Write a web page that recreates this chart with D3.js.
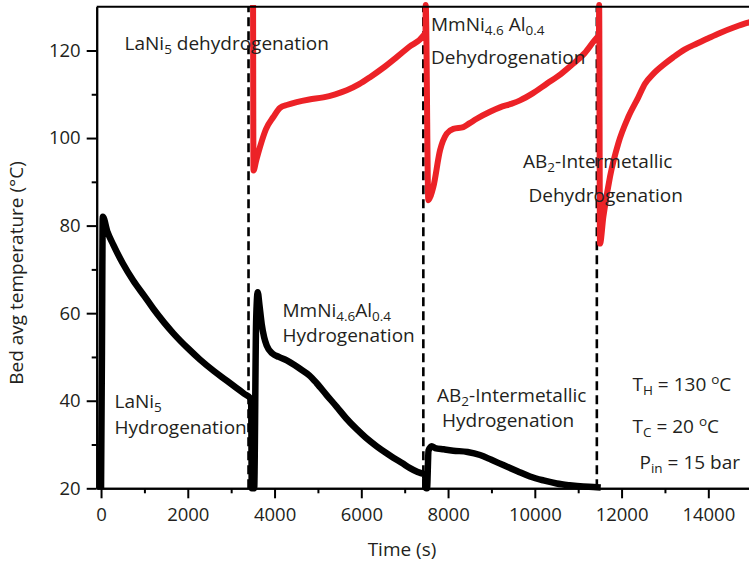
<!DOCTYPE html>
<html>
<head>
<meta charset="utf-8">
<script src="https://cdn.jsdelivr.net/npm/d3@7"></script>
<style>
  html, body { margin: 0; padding: 0; background: #fff; }
  svg { display: block; }
  text { font-family: "Open Sans", sans-serif; fill: #231f20; }
</style>
</head>
<body>
<svg id="chart" width="749" height="562"></svg>
<script>
// Bed average temperature over three hydrogenation / dehydrogenation cycles
// (time in s, temperature in °C)

// Hydrogenation bed (black trace)
const hydroTime = [0, 20, 40, 150, 284, 500, 745, 1000, 1206, 1450, 1667, 2000, 2282, 2600, 2898, 3112, 3300, 3460,
  3475, 3530, 3575, 3612, 3650, 3704, 3760, 3820, 3950, 4100, 4281, 4450, 4587, 4800, 4972, 5200, 5433, 5650,
  5894, 6100, 6355, 6600, 6738, 6950, 7123, 7300, 7469,
  7490, 7515, 7550, 7623, 7700, 7900, 8121, 8450, 8737, 9000, 9274, 9600, 9889, 10200, 10505, 10800, 11118, 11350, 11520];
const hydroTemp = [20, 50, 82, 78.5, 75.6, 71.4, 67.4, 63.9, 61.0, 57.9, 55.4, 52.0, 49.4, 46.8, 44.6, 43.0, 41.6, 40.4,
  20, 20, 58, 64.8, 62, 57.5, 54.5, 52.6, 50.8, 50.0, 49.2, 48.2, 47.3, 45.8, 44.0, 41.3, 38.6, 36.0,
  33.5, 31.6, 29.6, 27.9, 27.0, 25.7, 24.6, 23.7, 23.1,
  20, 20, 28.6, 29.6, 29.2, 28.9, 28.6, 28.3, 27.6, 26.5, 25.3, 23.9, 22.7, 21.8, 21.1, 20.7, 20.4, 20.3, 20.2];

// Dehydrogenation bed (red trace)
const dehydroTime = [3505, 3515, 3580, 3665, 3800, 3972, 4126, 4300, 4511, 4800, 5125, 5400, 5664, 5950, 6201, 6500,
  6817, 7100, 7430, 7480,
  7485, 7545, 7600, 7660, 7815, 7969, 8121, 8352, 8500, 8661, 8967, 9198, 9450, 9659, 9950, 10274, 10600, 10887,
  11150, 11427, 11478,
  11483, 11503, 11580, 11734, 11925, 12155, 12386, 12540, 12725, 13000, 13186, 13450, 13739, 14000, 14269, 14600,
  14892, 15000];
const dehydroTemp = [130.4, 92.6, 95, 98, 102, 104.8, 106.9, 107.6, 108.2, 108.8, 109.3, 110, 110.9, 112.3, 113.9, 116,
  118.5, 120.8, 123.4, 124.2,
  130.4, 85.8, 86.8, 88.8, 97.2, 101, 102.1, 102.5, 103.4, 104.4, 106.0, 107.0, 107.8, 108.6, 110.2, 112.4, 114.6, 117,
  119.4, 122.9, 123.4,
  130.4, 75.9, 82, 91.2, 98.8, 104.8, 109.3, 112.4, 114.6, 117, 118.4, 120.2, 121.6, 122.8, 124, 125.3,
  126.3, 126.6];

// Cycle switch-over times (dashed markers)
const switchTimes = [3400, 7430, 11430];

// Axis ticks
const xMajorTicks = [0, 2000, 4000, 6000, 8000, 10000, 12000, 14000];
const xMinorTicks = [1000, 3000, 5000, 7000, 9000, 11000, 13000];
const yMajorTicks = [20, 40, 60, 80, 100, 120];
const yMinorTicks = [30, 50, 70, 90, 110];

const xLabel = "Time (s)";
const yLabel = "Bed avg temperature (°C)";

// Text annotations in data coordinates; each line is a list of [text, style] pieces
const notes = [
  { t: 542,   v: 120.2, parts: [["LaNi"], ["5", "sub"], [" dehydrogenation"]] },
  { t: 7607,  v: 124.5, parts: [["MmNi"], ["4.6", "sub"], [" Al"], ["0.4", "sub"]] },
  { t: 7607,  v: 117.0, parts: [["Dehydrogenation"]] },
  { t: 9728,  v: 93.1,  parts: [["AB"], ["2", "sub"], ["-Intermetallic"]] },
  { t: 9855,  v: 85.4,  parts: [["Dehydrogenation"]] },
  { t: 311,   v: 38.3,  parts: [["LaNi"], ["5", "sub"]] },
  { t: 311,   v: 32.3,  parts: [["Hydrogenation"]] },
  { t: 4184,  v: 59.2,  parts: [["MmNi"], ["4.6", "sub"], ["Al"], ["0.4", "sub"]] },
  { t: 4184,  v: 53.5,  parts: [["Hydrogenation"]] },
  { t: 7746,  v: 39.8,  parts: [["AB"], ["2", "sub"], ["-Intermetallic"]] },
  { t: 7861,  v: 34.1,  parts: [["Hydrogenation"]] },
  { t: 12252, v: 42.3,  parts: [["T"], ["H", "sub"], [" = 130 "], ["o", "sup"], ["C"]] },
  { t: 12252, v: 32.7,  parts: [["T"], ["C", "sub"], [" = 20 "], ["o", "sup"], ["C"]] },
  { t: 12414, v: 24.4,  parts: [["P"], ["in", "sub"], [" = 15 bar"]] }
];

const svg = d3.select("#chart");

const x = d3.scaleLinear().domain([-100, 15000]).range([96.7, 751.7]);
const y = d3.scaleLinear().domain([20, 130]).range([488.3, 6.7]);

const axisColor = "#000";

// Dashed cycle markers
svg.append("g").selectAll("line")
  .data(switchTimes)
  .join("line")
  .attr("x1", d => x(d)).attr("x2", d => x(d))
  .attr("y1", y(20)).attr("y2", y(130))
  .attr("stroke", "#000")
  .attr("stroke-width", 2.6)
  .attr("stroke-dasharray", "9,5");

// Traces
const line = d3.line()
  .x(d => x(d[0]))
  .y(d => y(d[1]))
  .curve(d3.curveMonotoneX);

svg.append("path")
  .datum(hydroTime.map((t, i) => [t, hydroTemp[i]]))
  .attr("d", line)
  .attr("fill", "none")
  .attr("stroke", "#000")
  .attr("stroke-width", 6.5)
  .attr("stroke-linejoin", "round");

svg.append("path")
  .datum(dehydroTime.map((t, i) => [t, dehydroTemp[i]]))
  .attr("d", line)
  .attr("fill", "none")
  .attr("stroke", "#ec2227")
  .attr("stroke-width", 6)
  .attr("stroke-linejoin", "round");

// Axes
function styleAxis(g) {
  g.select(".domain").attr("stroke", axisColor).attr("stroke-width", 2);
  g.selectAll(".tick line").attr("stroke", axisColor).attr("stroke-width", 2);
  g.selectAll(".tick text").attr("fill", "#231f20")
    .style("font-family", "'Open Sans', sans-serif").style("font-size", "18.5px");
}

svg.append("g")
  .attr("transform", `translate(0,${y(20)})`)
  .call(d3.axisBottom(x).tickValues(xMinorTicks).tickSize(5).tickSizeOuter(0).tickFormat(""))
  .call(styleAxis);

svg.append("g")
  .attr("transform", `translate(0,${y(20)})`)
  .call(d3.axisBottom(x).tickValues(xMajorTicks).tickSize(10).tickSizeOuter(0).tickPadding(9.5).tickFormat(d3.format("d")))
  .call(styleAxis);

svg.append("g")
  .attr("transform", `translate(${x(-100)},0)`)
  .call(d3.axisLeft(y).tickValues(yMinorTicks).tickSize(5).tickSizeOuter(0).tickFormat(""))
  .call(styleAxis);

svg.append("g")
  .attr("transform", `translate(${x(-100)},0)`)
  .call(d3.axisLeft(y).tickValues(yMajorTicks).tickSize(10).tickSizeOuter(0).tickPadding(6).tickFormat(d3.format("d")))
  .call(styleAxis);

// Top frame line
svg.append("line")
  .attr("x1", x(-100)).attr("x2", x(15000))
  .attr("y1", y(130)).attr("y2", y(130))
  .attr("stroke", axisColor).attr("stroke-width", 2);

// Axis titles
svg.append("text")
  .attr("x", 402).attr("y", 556)
  .attr("text-anchor", "middle")
  .style("font-size", "19px")
  .text(xLabel);

svg.append("text")
  .attr("transform", "translate(22.5,273) rotate(-90)")
  .attr("text-anchor", "middle")
  .style("font-size", "19px")
  .text(yLabel);

// Annotations
const noteSize = 19, smallSize = 13.5;
notes.forEach(n => {
  const txt = svg.append("text")
    .attr("x", x(n.t)).attr("y", y(n.v))
    .style("font-size", noteSize + "px");
  let shift = 0;
  n.parts.forEach(([s, kind]) => {
    const target = kind === "sub" ? 4 : kind === "sup" ? -6.5 : 0;
    txt.append("tspan")
      .attr("dy", target - shift)
      .style("font-size", (kind ? smallSize : noteSize) + "px")
      .text(s);
    shift = target;
  });
});
</script>
</body>
</html>
